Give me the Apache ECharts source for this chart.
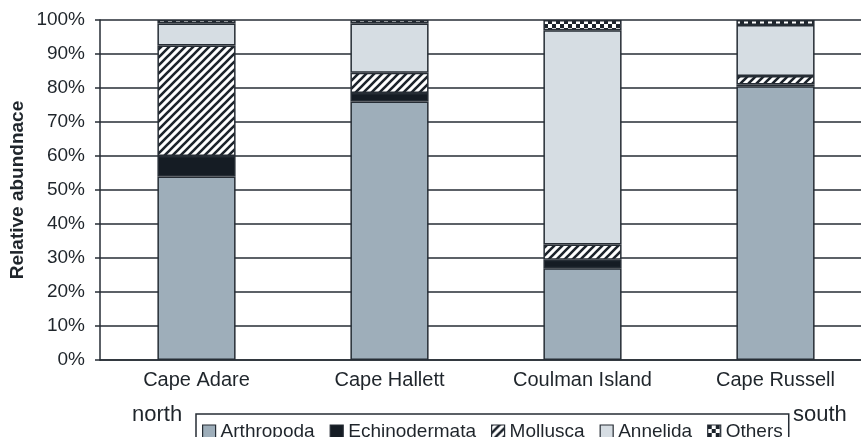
<!DOCTYPE html>
<html>
<head>
<meta charset="utf-8">
<script src="https://cdn.jsdelivr.net/npm/echarts@6/dist/echarts.min.js"></script>
<style>
  html, body { margin: 0; padding: 0; background: #ffffff; }
  #chart { width: 861px; height: 437px; }
</style>
</head>
<body>
<div id="chart"></div>
<script>
// Relative abundance of benthic taxa per site (percent of total)
const categories = ['Cape Adare', 'Cape Hallett', 'Coulman Island', 'Cape Russell'];
const arthropoda = [54, 76, 27, 80.5];
const echinodermata = [6, 2.5, 2.5, 0.5];
const mollusca = [32.5, 6, 4.5, 2.5];
const annelida = [6.5, 14.5, 63, 15];
const others = [1, 1, 3, 1.5];
const yTicks = [0, 10, 20, 30, 40, 50, 60, 70, 80, 90, 100];

const INK = '#1c232b';
const LINE = '#262d35';

// Diagonal hatch tile ("/" stripes)
function hatchTile() {
  const c = document.createElement('canvas');
  c.width = 8; c.height = 8;
  const g = c.getContext('2d');
  g.fillStyle = '#ffffff';
  g.fillRect(0, 0, 8, 8);
  g.strokeStyle = INK;
  g.lineWidth = 2.6;
  g.beginPath();
  g.moveTo(-2, 10); g.lineTo(10, -2);
  g.moveTo(-6, 6); g.lineTo(6, -6);
  g.moveTo(2, 14); g.lineTo(14, 2);
  g.stroke();
  return c;
}
// Checkerboard tile
function checkTile() {
  const c = document.createElement('canvas');
  c.width = 8; c.height = 8;
  const g = c.getContext('2d');
  g.fillStyle = '#ffffff';
  g.fillRect(0, 0, 8, 8);
  g.fillStyle = INK;
  g.fillRect(0, 0, 4, 4);
  g.fillRect(4, 4, 4, 4);
  return c;
}

const hatch = { image: hatchTile(), repeat: 'repeat' };
const check = { image: checkTile(), repeat: 'repeat' };

const FONT = '"Liberation Sans", Arial, Helvetica, sans-serif';

function stack(name, data, color) {
  return {
    name: name,
    type: 'bar',
    stack: 'total',
    data: data,
    barWidth: '40.5%',
    itemStyle: { color: color, borderColor: LINE, borderWidth: 1.5 },
    emphasis: { disabled: true }
  };
}

const chart = echarts.init(document.getElementById('chart'), null, { renderer: 'canvas' });
chart.setOption({
  animation: false,
  backgroundColor: '#ffffff',
  textStyle: { fontFamily: FONT },
  // the plot area runs past the right edge of the canvas
  grid: { left: 100, top: 20, width: 772, height: 340, containLabel: false, outerBoundsMode: 'none' },
  xAxis: {
    type: 'category',
    data: categories,
    axisLine: { show: true, lineStyle: { color: LINE, width: 1.5 } },
    axisTick: { show: false },
    axisLabel: { color: '#1f252b', fontSize: 20, fontFamily: FONT, margin: 10 }
  },
  yAxis: {
    type: 'value',
    min: yTicks[0],
    max: yTicks[yTicks.length - 1],
    interval: 10,
    name: 'Relative abundnace',
    nameLocation: 'middle',
    nameGap: 73,
    nameMoveOverlap: false,
    nameTextStyle: { color: '#1f252b', fontSize: 19, fontWeight: 'bold', fontFamily: FONT },
    axisLine: { show: true, lineStyle: { color: LINE, width: 1.5 } },
    axisTick: { show: true, inside: false, length: 5, lineStyle: { color: LINE, width: 1.5 } },
    axisLabel: { color: '#1f252b', fontSize: 19, fontFamily: FONT, margin: 15, formatter: '{value}%' },
    splitLine: { show: true, lineStyle: { color: LINE, width: 1.5 } }
  },
  legend: {
    left: 196,
    top: 414,
    orient: 'horizontal',
    itemWidth: 13,
    itemHeight: 13,
    itemGap: 15,
    padding: [8, 6, 12, 6],
    borderColor: LINE,
    borderWidth: 1.5,
    selectedMode: false,
    textStyle: { color: '#1f252b', fontSize: 19, fontFamily: FONT },
    data: [
      { name: 'Arthropoda', icon: 'rect', itemStyle: { borderColor: LINE, borderWidth: 1.2 } },
      { name: 'Echinodermata', icon: 'rect', itemStyle: { borderColor: LINE, borderWidth: 1.2 } },
      { name: 'Mollusca', icon: 'rect', itemStyle: { borderColor: LINE, borderWidth: 1.2 } },
      { name: 'Annelida', icon: 'rect', itemStyle: { borderColor: LINE, borderWidth: 1.2 } },
      { name: 'Others', icon: 'rect', itemStyle: { borderColor: LINE, borderWidth: 1.2 } }
    ]
  },
  graphic: [
    { type: 'text', left: 132, top: 404, style: { text: 'north', fontSize: 22, fontFamily: FONT, fill: '#1f252b' } },
    { type: 'text', left: 793, top: 404, style: { text: 'south', fontSize: 22, fontFamily: FONT, fill: '#1f252b' } }
  ],
  series: [
    stack('Arthropoda', arthropoda, '#9eaeba'),
    stack('Echinodermata', echinodermata, '#151c24'),
    stack('Mollusca', mollusca, hatch),
    stack('Annelida', annelida, '#d6dde3'),
    stack('Others', others, check)
  ]
});
</script>
</body>
</html>
